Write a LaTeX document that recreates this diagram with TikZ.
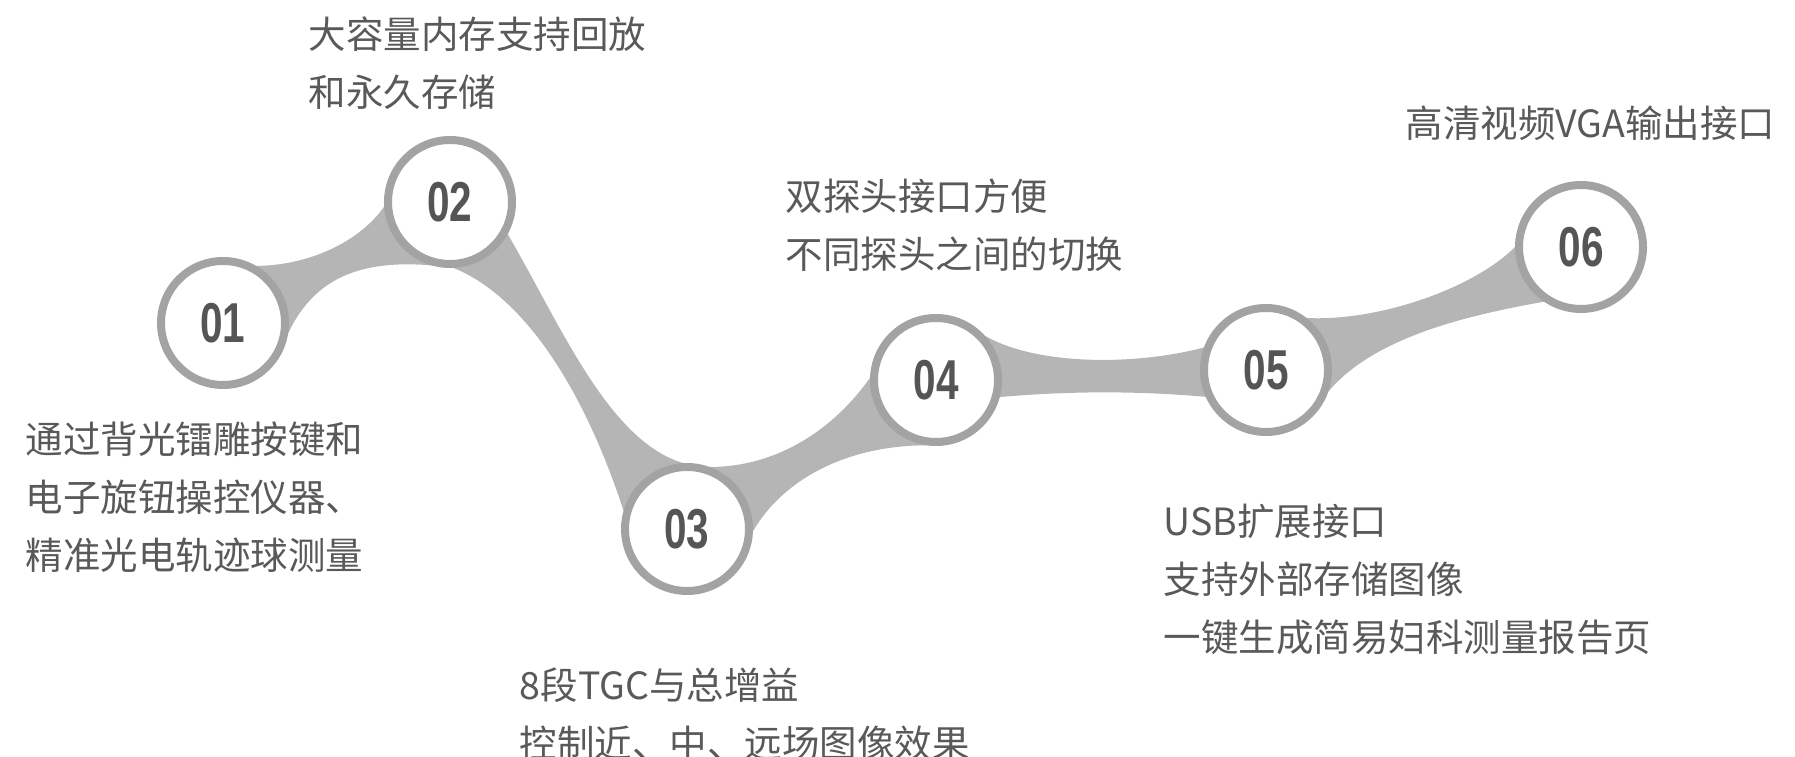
\documentclass[tikz,border=0pt]{standalone}
\usepackage{fontspec}
\usepackage{graphicx}
\newfontfamily\cjk{Noto Sans CJK SC}
\newfontfamily\numfont{Liberation Sans}
\usetikzlibrary{backgrounds}
\definecolor{ringgray}{HTML}{A3A3A3}
\definecolor{bandgray}{HTML}{B5B5B5}
\definecolor{numgray}{HTML}{555555}
\definecolor{textgray}{HTML}{595959}
\tikzset{ring/.style={circle, draw=ringgray, fill=white, line width=0.08cm,
    minimum size=1.24cm, inner sep=0pt, text=numgray,
    font=\numfont\bfseries\fontsize{16}{16}\selectfont},
    band/.style={fill=bandgray},
    note/.style={anchor=base west, inner sep=0pt, align=left, text=textgray,
    font=\cjk\fontsize{10.67}{16.5}\selectfont}}

\begin{document}
\begin{tikzpicture}
        \useasboundingbox (0,0) rectangle (17.95,-7.57);
        
        \foreach \n/\x/\y in {1/2.23/-3.23, 2/4.50/-2.02, 3/6.87/-5.29,
                              4/9.36/-3.80, 5/12.66/-3.70, 6/15.81/-2.47}
        {
            \node[ring] (n\n) at (\x,\y) {\scalebox{0.72}[1]{0\n}};
        }
        
        \begin{scope}[on background layer]
            \fill[band] (n1.center) -- (n1.60) .. controls +(0:0.5) and +(235:0.45) .. (n2.184)
                -- (n2.center) -- (n2.273) .. controls +(172:0.8) and +(65:0.7) .. (n1.-9) -- cycle;
            \fill[band] (n2.center) -- (n2.-29) .. controls +(-60:1.2) and +(180:0.9) .. (n3.70)
                -- (n3.center) -- (n3.164) .. controls +(108:1.2) and +(-22:0.8) .. (n2.273) -- cycle;
            \fill[band] (n3.center) -- (n3.70) .. controls +(0:0.7) and +(235:0.6) .. (n4.178)
                -- (n4.center) -- (n4.262) .. controls +(180:0.8) and +(60:0.6) .. (n3.-2) -- cycle;
            \fill[band] (n4.center) -- (n4.42) .. controls +(-30:0.6) and +(195:0.7) .. (n5.160)
                -- (n5.center) -- (n5.204) .. controls +(175:0.7) and +(5:0.7) .. (n4.-15) -- cycle;
            \fill[band] (n5.center) -- (n5.52) .. controls +(-3:0.7) and +(225:0.6) .. (n6.180)
                -- (n6.center) -- (n6.236) .. controls +(190:0.8) and +(50:0.7) .. (n5.-19) -- cycle;
        \end{scope}
        
        \node[note] (t1) at (0.25,-5.694) {通过背光镭雕按键和\\电子旋钮操控仪器、\\精准光电轨迹球测量};
        \node[note] (t2) at (3.08,-1.062) {大容量内存支持回放\\和永久存储};
        \node[note] (t3) at (5.19,-7.572) {8段TGC与总增益\\控制近、中、远场图像效果};
        \node[note] (t4) at (7.85,-2.682) {双探头接口方便\\不同探头之间的切换};
        \node[note] (t5) at (11.63,-6.514) {USB扩展接口\\支持外部存储图像\\一键生成简易妇科测量报告页};
        \node[note] (t6) at (14.05,-1.38) {高清视频VGA输出接口};
    \end{tikzpicture}
\end{document}
